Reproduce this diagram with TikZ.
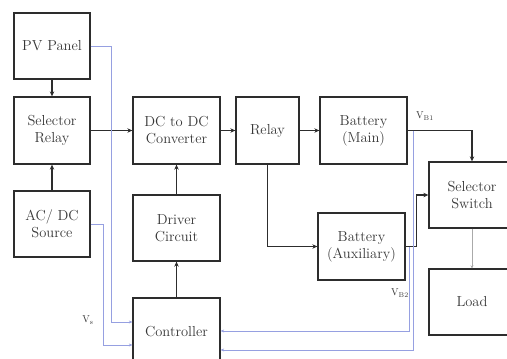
\documentclass[tikz,border=0pt]{standalone}
\usetikzlibrary{arrows.meta,calc}
\definecolor{boxline}{RGB}{45,45,45}
\definecolor{txt}{RGB}{55,55,55}
\definecolor{sig}{RGB}{150,160,225}
\definecolor{thin}{RGB}{170,170,170}
\tikzset{
  blk/.style={draw=boxline, line width=1.3pt, align=center, inner sep=1pt,
    font=\fontsize{14.5}{17}\selectfont, text=txt},
  arr/.style={draw=boxline, line width=1.3pt, -{Stealth[length=5pt,width=4.5pt]}},
  sigarr/.style={draw=sig, line width=0.7pt, -{Stealth[length=3.5pt,width=3pt]}},
  lbl/.style={font=\fontsize{10}{11}\selectfont, text=txt, inner sep=0pt}
}
\begin{document}
\begin{tikzpicture}[x=1pt,y=-1pt]
\useasboundingbox (0,0) rectangle (507,359);
\clip (0,0) rectangle (507,359);
% blocks
\node[blk, minimum width=76, minimum height=66] (pv) at (52,46) {PV Panel};
\node[blk, minimum width=76, minimum height=67] (selr) at (52,130.5) {Selector\\Relay};
\node[blk, minimum width=76, minimum height=66] (acdc) at (52,224) {AC/ DC\\Source};
\node[blk, minimum width=87, minimum height=67] (dcdc) at (176.5,130.5) {DC to DC\\Converter};
\node[blk, minimum width=63, minimum height=67] (relay) at (267.5,130.5) {Relay};
\node[blk, minimum width=87, minimum height=67] (batm) at (363.5,130.5) {Battery\\(Main)};
\node[blk, minimum width=87, minimum height=66] (driver) at (176.5,228) {Driver\\Circuit};
\node[blk, minimum width=87, minimum height=68] (ctrl) at (176.5,332) {Controller};
\node[blk, minimum width=87, minimum height=67] (bata) at (361.5,246.5) {Battery\\(Auxiliary)};
\node[blk, minimum width=86, minimum height=66] (sels) at (472,195) {Selector\\Switch};
\node[blk, minimum width=86, minimum height=66] (load) at (472,302) {Load};
% power path
\draw[arr] (pv) -- (selr);
\draw[arr] (acdc) -- (selr);
\draw[arr] (selr) -- (dcdc);
\draw[arr] (dcdc) -- (relay);
\draw[arr] (relay) -- (batm);
\draw[arr] (relay.south) |- (bata.west);
\draw[arr] (driver) -- (dcdc);
\draw[arr] (ctrl) -- (driver);
\draw[arr] (batm.east) -| (sels.north);
\draw[arr] (bata.east) -- ++(11,0) |- (sels.west);
\draw[draw=thin, line width=0.6pt, -{Stealth[length=3pt,width=3pt]}] (sels) -- (load);
% sense lines
\coordinate (vb1) at (413,130.5);
\coordinate (vb2) at (409.5,246.5);
\draw[sigarr] (pv.east) -- ++(21,0) |- ([yshift=10pt]ctrl.west);
\draw[sigarr] (acdc.east) -- ++(13,0) |- ([yshift=-13pt]ctrl.west);
\draw[sigarr] (vb1) |- ([yshift=-18pt]ctrl.east);
\draw[sigarr] (vb2) |- ([yshift=1pt]ctrl.east);
% labels
\node[lbl] (lvb1) at (425,116) {V\textsubscript{B1}};
\node[lbl] (lvb2) at (400,293) {V\textsubscript{B2}};
\node[lbl] (lvs) at (88,320) {V\textsubscript{s}};
\end{tikzpicture}
\end{document}
